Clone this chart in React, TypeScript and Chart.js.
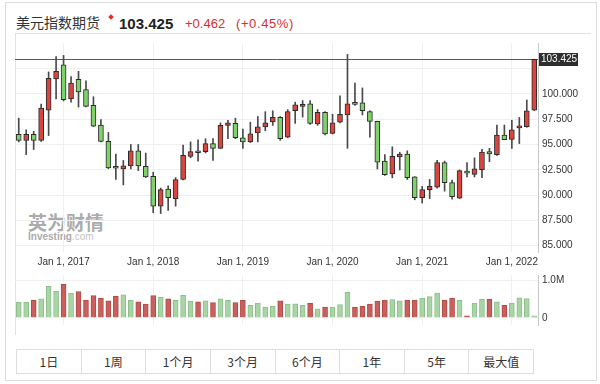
import React, { useEffect, useRef } from 'react';
import { Chart, registerables } from 'chart.js';

Chart.register(...registerables);

const months = [
  '2016-07', '2016-08', '2016-09', '2016-10', '2016-11', '2016-12',
  '2017-01', '2017-02', '2017-03', '2017-04', '2017-05', '2017-06', '2017-07', '2017-08', '2017-09', '2017-10', '2017-11', '2017-12',
  '2018-01', '2018-02', '2018-03', '2018-04', '2018-05', '2018-06', '2018-07', '2018-08', '2018-09', '2018-10', '2018-11', '2018-12',
  '2019-01', '2019-02', '2019-03', '2019-04', '2019-05', '2019-06', '2019-07', '2019-08', '2019-09', '2019-10', '2019-11', '2019-12',
  '2020-01', '2020-02', '2020-03', '2020-04', '2020-05', '2020-06', '2020-07', '2020-08', '2020-09', '2020-10', '2020-11', '2020-12',
  '2021-01', '2021-02', '2021-03', '2021-04', '2021-05', '2021-06', '2021-07', '2021-08', '2021-09', '2021-10', '2021-11', '2021-12',
  '2022-01', '2022-02', '2022-03', '2022-04',
];

const opens = [
  96.0, 95.4, 96.0, 95.4, 98.4, 101.47,
  102.86, 99.49, 101.44, 100.43, 98.87, 96.92, 95.31, 92.79, 92.58, 92.89, 94.37, 92.83,
  91.85, 88.9, 90.59, 89.65, 91.54, 93.83, 94.22, 94.3, 95.09, 94.62, 96.89, 97.08,
  95.66, 95.25, 96.13, 96.73, 97.23, 97.67, 95.72, 98.33, 98.77, 99.02, 97.04, 98.17,
  96.09, 97.2, 97.92, 99.02, 99.11, 98.24, 97.29, 93.36, 92.1, 93.77, 94.06, 91.79,
  89.75, 90.53, 90.78, 93.21, 91.23, 89.68, 92.36, 92.04, 92.51, 94.3, 93.99, 95.94,
  95.5, 96.64, 96.75, 98.4,
];

const highs = [
  97.6, 96.45, 96.3, 99.0, 102.17, 103.68,
  103.8, 101.7, 102.23, 101.28, 99.72, 97.45, 96.19, 94.06, 93.42, 95.0, 95.0, 94.15,
  92.26, 90.69, 90.91, 91.73, 94.93, 95.25, 95.47, 95.57, 95.57, 97.13, 97.39, 97.6,
  96.51, 97.2, 97.76, 98.24, 98.33, 97.76, 98.45, 99.18, 99.34, 99.34, 98.45, 98.24,
  97.98, 99.81, 103.9, 101.07, 100.59, 98.33, 97.3, 93.99, 94.77, 94.23, 94.37, 91.82,
  90.85, 91.54, 93.42, 93.36, 91.47, 92.48, 93.21, 93.68, 94.53, 94.62, 96.92, 96.92,
  97.39, 97.67, 99.4, 103.43,
];

const lows = [
  95.25, 94.0, 94.5, 95.3, 95.88, 99.49,
  99.3, 99.18, 98.7, 98.7, 96.75, 95.25, 92.6, 91.54, 91.0, 92.58, 92.42, 91.73,
  88.26, 88.17, 88.49, 88.9, 91.5, 93.68, 93.36, 94.15, 93.42, 94.6, 95.57, 95.57,
  94.62, 95.19, 95.25, 96.35, 96.89, 95.41, 95.66, 97.08, 97.7, 96.98, 96.89, 95.94,
  96.04, 97.13, 94.62, 98.87, 97.92, 95.72, 92.58, 91.94, 91.7, 92.48, 91.54, 89.53,
  89.21, 89.65, 90.69, 90.38, 89.58, 89.65, 91.79, 91.79, 91.73, 93.3, 93.92, 95.47,
  94.62, 95.09, 96.7, 98.35,
];

const closes = [
  95.4, 96.0, 95.4, 98.6, 101.54, 102.23,
  99.43, 101.07, 100.19, 98.77, 96.82, 95.31, 92.67, 92.65, 92.89, 94.37, 92.89, 91.79,
  88.9, 90.53, 89.75, 91.54, 93.92, 94.3, 94.18, 95.09, 94.62, 96.89, 97.13, 95.66,
  95.25, 96.04, 96.75, 97.13, 97.67, 95.57, 98.24, 98.92, 98.96, 97.08, 98.17, 96.04,
  97.13, 97.98, 99.02, 98.96, 98.33, 97.29, 93.26, 92.01, 93.83, 94.06, 91.73, 89.75,
  90.53, 90.85, 93.21, 91.23, 89.84, 92.42, 92.17, 92.58, 94.25, 94.06, 95.94, 95.47,
  96.44, 96.68, 98.33, 103.425,
];

// volume in millions of contracts
const volumes = [
  0.42, 0.42, 0.47, 0.51, 0.85, 0.72,
  0.90, 0.67, 0.71, 0.48, 0.60, 0.53, 0.46, 0.58, 0.62, 0.47, 0.43, 0.37,
  0.60, 0.55, 0.51, 0.47, 0.61, 0.45, 0.43, 0.46, 0.41, 0.51, 0.47, 0.41,
  0.47, 0.34, 0.40, 0.29, 0.31, 0.46, 0.37, 0.38, 0.34, 0.39, 0.24, 0.29,
  0.29, 0.36, 0.69, 0.29, 0.31, 0.37, 0.45, 0.48, 0.49, 0.46, 0.48, 0.48,
  0.53, 0.57, 0.67, 0.48, 0.53, 0.47, 0.015, 0.40, 0.50, 0.50, 0.43, 0.34,
  0.40, 0.54, 0.52, 0.02,
];

const priceTicks = [85, 87.5, 90, 92.5, 95, 97.5, 100, 102.5];
const volumeTicks = [0, 1];
const xTickMonths = ['2017-01', '2018-01', '2019-01', '2020-01', '2021-01', '2022-01'];
const xTickLabels = ['Jan 1, 2017', 'Jan 1, 2018', 'Jan 1, 2019', 'Jan 1, 2020', 'Jan 1, 2021', 'Jan 1, 2022'];
const rangeButtons = ['1日', '1周', '1个月', '3个月', '6个月', '1年', '5年', '最大值'];

const titleText = '美元指数期货';
const lastPriceText = '103.425';
const changeText = '+0.462';
const changePctText = '(+0.45%)';

const FONT = "'Liberation Sans', Arial, sans-serif";
const CJK = "'Noto Sans CJK SC', 'Liberation Sans', sans-serif";

const lastPricePlugin = {
  id: 'lastPrice',
  beforeDatasetsDraw(chart: any) {
    const { ctx, chartArea } = chart;
    const y = Math.round(chart.scales.y.getPixelForValue(closes[closes.length - 1])) + 0.5;
    ctx.save();
    ctx.strokeStyle = '#5a5a5a';
    ctx.lineWidth = 1;
    ctx.beginPath();
    ctx.moveTo(chartArea.left, y);
    ctx.lineTo(chartArea.right, y);
    ctx.stroke();
    ctx.restore();
  },
  afterDraw(chart: any) {
    const { ctx, chartArea } = chart;
    const v = closes[closes.length - 1];
    const y = chart.scales.y.getPixelForValue(v);
    ctx.save();
    ctx.fillStyle = '#2e2e2e';
    ctx.fillRect(chartArea.right + 1, Math.round(y) - 6, 39, 13);
    ctx.fillStyle = '#ffffff';
    ctx.font = `10px ${FONT}`;
    ctx.textBaseline = 'middle';
    ctx.textAlign = 'left';
    ctx.fillText(v.toFixed(3), chartArea.right + 3, Math.round(y) + 0.5);
    ctx.restore();
  },
};

const yearFilter = (axis: any) => {
  axis.ticks = axis.ticks.filter((t: any) => xTickMonths.includes(months[t.value]));
};

export default function App() {
  const priceRef = useRef<HTMLCanvasElement>(null);
  const volRef = useRef<HTMLCanvasElement>(null);

  useEffect(() => {
    Chart.defaults.font.family = FONT;
    const upColor = '#d9463f';
    const downColor = '#7fd16a';
    const candleColors = closes.map((c, i) => (c > opens[i] ? upColor : downColor));
    const volUp = closes.map((c, i) => i === 0 || c >= closes[i - 1]);
    const volFill = volUp.map((u) => (u ? '#a9d5a6' : '#c9605c'));
    const volBorder = volUp.map((u) => (u ? '#8cbf88' : '#b04a46'));

    const priceChart = new Chart(priceRef.current as HTMLCanvasElement, {
      type: 'bar',
      data: {
        labels: months,
        datasets: [
          {
            label: 'wick',
            data: months.map((_, i) => [lows[i], highs[i]]) as any,
            backgroundColor: '#4a4a4a',
            borderWidth: 0,
            barThickness: 1,
            grouped: false,
            order: 2,
          } as any,
          {
            label: 'body',
            data: months.map((_, i) => [opens[i], closes[i]]) as any,
            backgroundColor: candleColors,
            borderColor: '#2a2a2a',
            borderWidth: 1,
            borderSkipped: false,
            barThickness: 5,
            minBarLength: 2,
            grouped: false,
            order: 1,
          } as any,
        ],
      },
      options: {
        animation: false,
        responsive: false,
        maintainAspectRatio: false,
        layout: { padding: 0 },
        plugins: { legend: { display: false }, tooltip: { enabled: false } },
        scales: {
          x: {
            offset: true,
            grid: { offset: false, color: '#efefef', drawTicks: false },
            border: { display: false },
            afterBuildTicks: yearFilter,
            ticks: {
              autoSkip: false,
              maxRotation: 0,
              minRotation: 0,
              padding: 4,
              color: '#333',
              font: { size: 10 },
              callback: (v: any) => xTickLabels[xTickMonths.indexOf(months[v])],
            },
            afterFit: (axis: any) => {
              axis.height = 18;
            },
          } as any,
          y: {
            position: 'right',
            min: 84.37,
            max: 105.03,
            afterBuildTicks: (axis: any) => {
              axis.ticks = priceTicks.map((v) => ({ value: v }));
            },
            grid: { color: '#efefef', drawTicks: false },
            border: { display: true, color: '#c8c8c8' },
            ticks: {
              padding: 4,
              color: '#333',
              font: { size: 10 },
              callback: (v: any) => (v === 102.5 ? '' : Number(v).toFixed(3)),
            },
            afterFit: (axis: any) => {
              axis.width = 62;
            },
          } as any,
        },
      },
      plugins: [lastPricePlugin],
    });

    const volChart = new Chart(volRef.current as HTMLCanvasElement, {
      type: 'bar',
      data: {
        labels: months,
        datasets: [
          {
            data: volumes,
            backgroundColor: volFill,
            borderColor: volBorder,
            borderWidth: 1,
            barThickness: 5,
            minBarLength: 2,
          } as any,
        ],
      },
      options: {
        animation: false,
        responsive: false,
        maintainAspectRatio: false,
        layout: { padding: 0 },
        plugins: { legend: { display: false }, tooltip: { enabled: false } },
        scales: {
          x: {
            offset: true,
            grid: { offset: false, color: '#f0f0f0', drawTicks: false },
            border: { display: false },
            afterBuildTicks: yearFilter,
            ticks: { display: false, autoSkip: false, maxRotation: 0 },
            afterFit: (axis: any) => {
              axis.height = 0;
            },
          } as any,
          y: {
            position: 'right',
            min: -0.192,
            max: 1.154,
            afterBuildTicks: (axis: any) => {
              axis.ticks = volumeTicks.map((v) => ({ value: v }));
            },
            grid: { color: '#f0f0f0', drawTicks: false },
            border: { display: true, color: '#c8c8c8' },
            ticks: {
              padding: 4,
              color: '#333',
              font: { size: 10 },
              callback: (v: any) => (v === 0 ? '0' : Number(v).toFixed(1) + 'M'),
            },
            afterFit: (axis: any) => {
              axis.width = 62;
            },
          } as any,
        },
      },
    });

    return () => {
      priceChart.destroy();
      volChart.destroy();
    };
  }, []);

  return (
    <div
      style={{
        position: 'absolute',
        left: 0,
        top: 0,
        width: 600,
        height: 384,
        background: '#ffffff',
        overflow: 'hidden',
        fontFamily: FONT,
      }}
    >
      {/* outer frame */}
      <div
        style={{
          position: 'absolute',
          left: 5,
          top: 2,
          width: 592,
          height: 379,
          border: '1px solid #dcdcdc',
          boxSizing: 'border-box',
        }}
      />
      {/* title row */}
      <div style={{ position: 'absolute', left: 16, top: 15, fontSize: 14, lineHeight: '14px', color: '#333', fontFamily: CJK, whiteSpace: 'nowrap' }}>
        {titleText}
      </div>
      <div
        style={{
          position: 'absolute',
          left: 109,
          top: 15,
          width: 4,
          height: 4,
          background: '#e0302a',
          transform: 'rotate(45deg)',
        }}
      />
      <div style={{ position: 'absolute', left: 119, top: 16, fontSize: 15, lineHeight: '15px', fontWeight: 700, color: '#222', whiteSpace: 'nowrap' }}>
        {lastPriceText}
      </div>
      <div style={{ position: 'absolute', left: 185, top: 17, fontSize: 13, lineHeight: '13px', color: '#d9302a', whiteSpace: 'nowrap' }}>
        {changeText}
      </div>
      <div style={{ position: 'absolute', left: 236, top: 17, fontSize: 13, lineHeight: '13px', color: '#d9302a', whiteSpace: 'nowrap', letterSpacing: '0.6px' }}>
        {changePctText}
      </div>
      {/* inner panel lines */}
      <div
        style={{
          position: 'absolute',
          left: 15,
          top: 33,
          width: 576,
          height: 302,
          borderTop: '1px solid #e2e2e2',
          borderLeft: '1px solid #e2e2e2',
          boxSizing: 'border-box',
        }}
      />
      {/* watermark */}
      <div style={{ position: 'absolute', left: 28, top: 212, color: '#8f8f8f', opacity: 0.75, whiteSpace: 'nowrap' }}>
        <div style={{ fontFamily: CJK, fontSize: 19, lineHeight: '20px', fontWeight: 700, letterSpacing: '0px' }}>英为财情</div>
        <div style={{ fontSize: 10, lineHeight: '10px', marginTop: 0 }}>
          <span style={{ fontWeight: 700 }}>Investing</span>
          <span style={{ color: '#b0b0b0' }}>.com</span>
        </div>
      </div>
      {/* charts */}
      <canvas ref={priceRef} width={585} height={237} style={{ position: 'absolute', left: 15, top: 33, width: 585, height: 237 }} />
      <canvas ref={volRef} width={585} height={70} style={{ position: 'absolute', left: 15, top: 265, width: 585, height: 70 }} />
      {/* range buttons */}
      <div
        style={{
          position: 'absolute',
          left: 16,
          top: 349,
          width: 518,
          height: 25,
          display: 'flex',
          border: '1px solid #dddddd',
          boxSizing: 'border-box',
          background: '#fff',
        }}
      >
        {rangeButtons.map((b, i) => (
          <div
            key={b}
            style={{
              flex: 1,
              borderLeft: i === 0 ? 'none' : '1px solid #dddddd',
              display: 'flex',
              alignItems: 'center',
              justifyContent: 'center',
              fontFamily: CJK,
              fontSize: 12,
              color: '#333',
            }}
          >
            {b}
          </div>
        ))}
      </div>
    </div>
  );
}
